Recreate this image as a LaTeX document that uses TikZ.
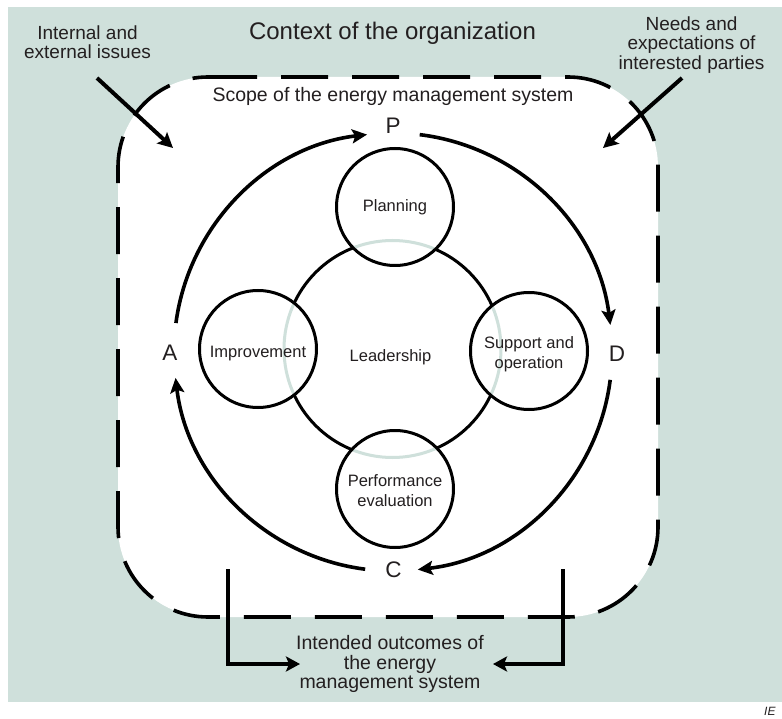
\documentclass[tikz,border=0pt]{standalone}
\usepackage{fontspec}
\setmainfont{Liberation Sans}
\usetikzlibrary{arrows.meta}
\definecolor{bgc}{HTML}{CFE0DB}
\definecolor{ink}{HTML}{231F20}
\begin{document}
\begin{tikzpicture}[x=1pt,y=1pt,
  lbl/.style={text=ink, align=center, inner sep=0pt},
  bigtxt/.style={lbl, font=\fontsize{24}{24}\selectfont},
  sidetxt/.style={lbl, font=\fontsize{19}{19.2}\selectfont},
  scopetxt/.style={lbl, font=\fontsize{19.5}{19.5}\selectfont},
  letter/.style={lbl, font=\fontsize{22.5}{22.5}\selectfont},
  procbox/.style={circle, draw=black, line width=3pt, minimum size=117pt, inner sep=0pt},
  proctxt/.style={lbl, font=\fontsize{16.5}{20}\selectfont},
  pdca/.style={line width=3.6pt, -{Stealth[length=15pt,width=14pt,inset=3pt]}},
  inarrow/.style={line width=4pt, -{Stealth[length=15pt,width=15pt,inset=3pt]}},
  outarrow/.style={line width=4.5pt, -{Stealth[length=14pt,width=15pt,inset=3pt]}},
  scopeline/.style={line width=3.6pt, dash pattern=on 47pt off 24pt},
]
\useasboundingbox (0,0) rectangle (782,-719);
% background
\fill[bgc] (8,-7) rectangle (782,-702);
% scope region
\fill[white] (208,-77) -- (568,-77) arc[start angle=90,end angle=0,radius=90]
  -- (658,-527) arc[start angle=0,end angle=-90,radius=90]
  -- (208,-617) arc[start angle=-90,end angle=-180,radius=90]
  -- (118,-167) arc[start angle=180,end angle=90,radius=90] -- cycle;
\draw[scopeline] (210,-77) -- (568,-77) arc[start angle=90,end angle=0,radius=90]
  -- (658,-527) arc[start angle=0,end angle=-90,radius=90]
  -- (208,-617) arc[start angle=-90,end angle=-180,radius=90]
  -- (118,-167) arc[start angle=180,end angle=90,radius=90] -- cycle;

% texts
\node[bigtxt, anchor=base] (ctx) at (392.5,-40) {Context of the organization};
\node[sidetxt] (iss) at (87.5,-42.5) {Internal and\\external issues};
\node[sidetxt] (needs) at (691.5,-45) {Needs and\\expectations of\\interested parties};
\node[scopetxt, anchor=base] (scope) at (393,-102) {Scope of the energy management system};
\node[sidetxt, font=\fontsize{19.5}{19.2}\selectfont] (outc) at (390,-664) {Intended outcomes of\\the energy\\management system};

% input arrows
\coordinate (issA) at (97,-78);
\coordinate (issB) at (173,-148);
\coordinate (ndsA) at (682,-78);
\coordinate (ndsB) at (603,-148);
\draw[inarrow] (issA) -- (issB);
\draw[inarrow] (ndsA) -- (ndsB);

% leadership and process circles
\coordinate (ctr) at (392.5,-349);
\coordinate (cPlan) at (395,-207);
\coordinate (cImpr) at (258,-349);
\coordinate (cSupp) at (529,-351);
\coordinate (cPerf) at (395,-489);
\draw[line width=3pt] (ctr) circle[radius=108.5];
\foreach \c in {cPlan,cImpr,cSupp,cPerf}{
  \fill[white] (\c) circle[radius=58.5];
  \begin{scope}
    \clip (\c) circle[radius=57];
    \draw[bgc, line width=3pt] (ctr) circle[radius=108.5];
  \end{scope}
}
\node[procbox] (plan) at (cPlan) {};
\node[procbox] (impr) at (cImpr) {};
\node[procbox] (supp) at (cSupp) {};
\node[procbox] (perf) at (cPerf) {};
\node[proctxt] (planT) at ([yshift=0pt]plan.center) {Planning};
\node[proctxt] (imprT) at ([yshift=-5pt]impr.center) {Improvement};
\node[proctxt] (suppT) at ([yshift=-3pt]supp.center) {Support and\\operation};
\node[proctxt] (perfT) at ([yshift=-2pt]perf.center) {Performance\\evaluation};
\node[proctxt, anchor=base] (lead) at (390.5,-362) {Leadership};

% PDCA
\coordinate (pc) at (393,-352);
\node[letter, anchor=base] (P) at (393,-134) {P};
\node[letter, anchor=base] (D) at (617,-362) {D};
\node[letter, anchor=base] (C) at (393.5,-577) {C};
\node[letter, anchor=base] (A) at (170,-360) {A};
\draw[pdca] ([shift={(172.4:219)}]pc) arc[start angle=172.4,end angle=96.8,radius=219];
\draw[pdca] ([shift={(83:219)}]pc) arc[start angle=83,end angle=7.1,radius=219];
\draw[pdca] ([shift={(-7.3:219)}]pc) arc[start angle=-7.3,end angle=-83.5,radius=219];
\draw[pdca] ([shift={(-97.3:219)}]pc) arc[start angle=-97.3,end angle=-173.2,radius=219];

% outcome arrows
\coordinate (oLtop) at (228,-569);
\coordinate (oLtip) at (300,-664);
\coordinate (oRtop) at (563,-569);
\coordinate (oRtip) at (493,-664);
\draw[outarrow] (oLtop) |- (oLtip);
\draw[outarrow] (oRtop) |- (oRtip);

% source mark
\node[lbl, anchor=base west, font=\fontsize{12}{12}\selectfont\itshape] (src) at (764,-715) {IE};
\end{tikzpicture}
\end{document}
